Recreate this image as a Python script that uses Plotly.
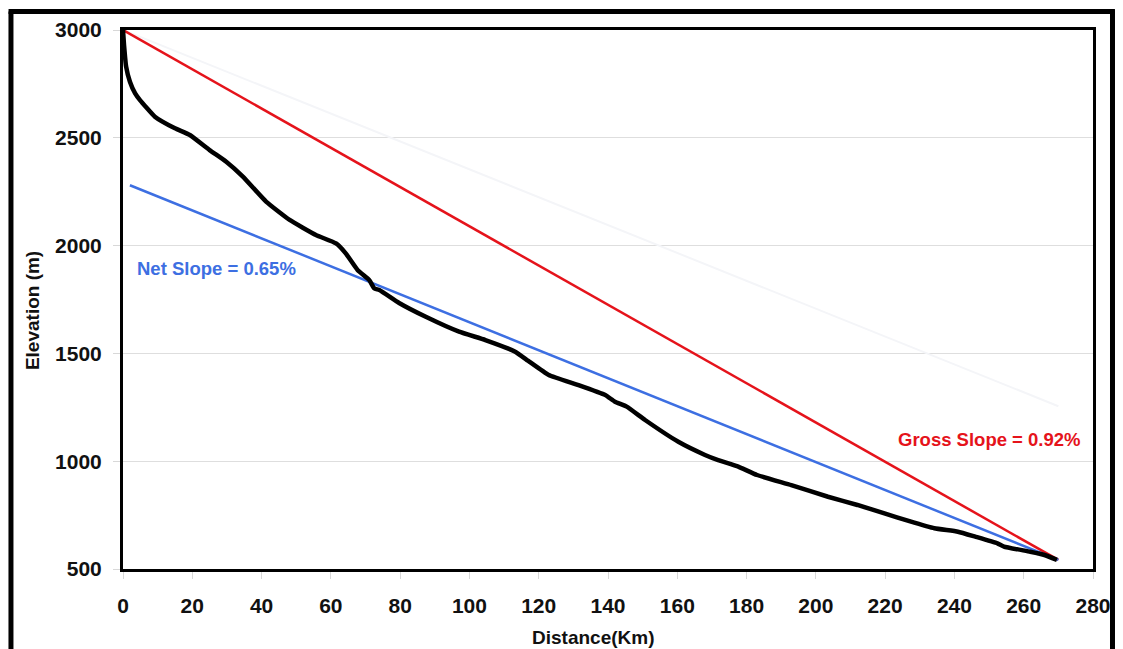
import plotly.graph_objects as go

# River longitudinal profile: distance along channel (km) vs bed elevation (m)
distance_km = [0, 0.3, 0.9, 2.0, 3.5, 4.9, 9.2, 15, 19.3, 25, 29.8, 34.6, 41.3, 48.1,
               55.7, 61.5, 64.3, 67.7, 71.1, 72.5, 74, 79.7, 87.4, 97, 104.6, 113.2,
               117, 122.9, 131.5, 139.2, 142, 145.4, 150.7, 160.3, 168, 171.8, 177.6,
               183, 192.9, 203.5, 212, 219.8, 227, 234.2, 241, 246, 252.4, 254.3,
               261.9, 266, 269.6]
elevation_m = [3000, 2930, 2830, 2760, 2706, 2675, 2598, 2544, 2513, 2443, 2389, 2320,
               2204, 2119, 2049, 2010, 1964, 1887, 1840, 1802, 1794, 1734, 1670, 1601,
               1562, 1508, 1465, 1400, 1353, 1307, 1276, 1253, 1191, 1090, 1029, 1005,
               975, 936, 889, 835, 797, 758, 722, 689, 673, 650, 619, 604, 580, 565, 542]

# Gross slope: source to outlet
gross_x = [0, 270]
gross_y = [3000, 542]

# Net slope: fitted line ending at the outlet
net_x = [2, 270]
net_y = [2280, 542]

# Faint parallel guide at the net slope, starting from the source elevation
guide_x = [0, 270]
guide_y = [3000, 1255]

x_ticks = [0, 20, 40, 60, 80, 100, 120, 140, 160, 180, 200, 220, 240, 260, 280]
y_ticks = [500, 1000, 1500, 2000, 2500, 3000]

RED = "#e5131b"
BLUE = "#3d6fe2"
FONT = "Liberation Sans, Arial, sans-serif"

fig = go.Figure()
fig.add_trace(go.Scatter(x=guide_x, y=guide_y, mode="lines",
                         line=dict(color="#f4f5f8", width=2), hoverinfo="skip"))
fig.add_trace(go.Scatter(x=gross_x, y=gross_y, mode="lines",
                         line=dict(color=RED, width=2.5), name="Gross Slope"))
fig.add_trace(go.Scatter(x=net_x, y=net_y, mode="lines",
                         line=dict(color=BLUE, width=2.5), name="Net Slope"))
fig.add_trace(go.Scatter(x=distance_km, y=elevation_m, mode="lines",
                         line=dict(color="black", width=4.5, shape="spline", smoothing=0.4),
                         name="Profile"))

fig.add_annotation(x=3.5, y=1896, xref="x", yref="y", text="Net Slope = 0.65%",
                   showarrow=False, xanchor="left", yanchor="middle",
                   font=dict(family=FONT, size=18.5, color=BLUE, weight="bold"))
fig.add_annotation(x=277, y=1100, xref="x", yref="y", text="Gross Slope = 0.92%",
                   showarrow=False, xanchor="right", yanchor="middle",
                   font=dict(family=FONT, size=18.5, color=RED, weight="bold"))

# Axis titles
fig.add_annotation(x=0.485, y=-0.127, xref="paper", yref="paper", text="Distance(Km)",
                   showarrow=False, xanchor="center", yanchor="middle",
                   font=dict(family=FONT, size=19, color="#111", weight="bold"))
fig.add_annotation(x=-0.094, y=0.48, xref="paper", yref="paper", text="Elevation (m)",
                   showarrow=False, textangle=-90, xanchor="center", yanchor="middle",
                   font=dict(family=FONT, size=19, color="#111", weight="bold"))

# Outer frame around the whole figure
frame = dict(color="black", width=5)
fig.add_shape(type="line", xref="paper", yref="paper", x0=-0.1155, x1=-0.1155,
              y0=1.0343, y1=-0.2, line=frame)
fig.add_shape(type="line", xref="paper", yref="paper", x0=-0.118, x1=1.0226,
              y0=1.0343, y1=1.0343, line=frame)
fig.add_shape(type="line", xref="paper", yref="paper", x0=1.0201, x1=1.0201,
              y0=1.037, y1=-0.2, line=frame)

axis_common = dict(
    showline=True, linecolor="black", linewidth=3, mirror=True,
    showgrid=False, zeroline=False,
    ticks="outside", ticklen=7, tickcolor="#d8d8d8", tickwidth=1,
    tickfont=dict(family=FONT, size=21, color="#111", weight="bold"),
)

fig.update_xaxes(range=[0, 280], tickvals=x_ticks, ticklabelstandoff=9, **axis_common)
fig.update_yaxes(range=[500, 3000], tickvals=y_ticks, ticklabelstandoff=7,
                 **{**axis_common, "showgrid": True, "gridcolor": "#dedede", "gridwidth": 1})

fig.update_layout(
    width=1123, height=649,
    margin=dict(l=123, r=25, t=30, b=80),
    plot_bgcolor="white", paper_bgcolor="white",
    showlegend=False,
)

fig.write_html("out.html")
